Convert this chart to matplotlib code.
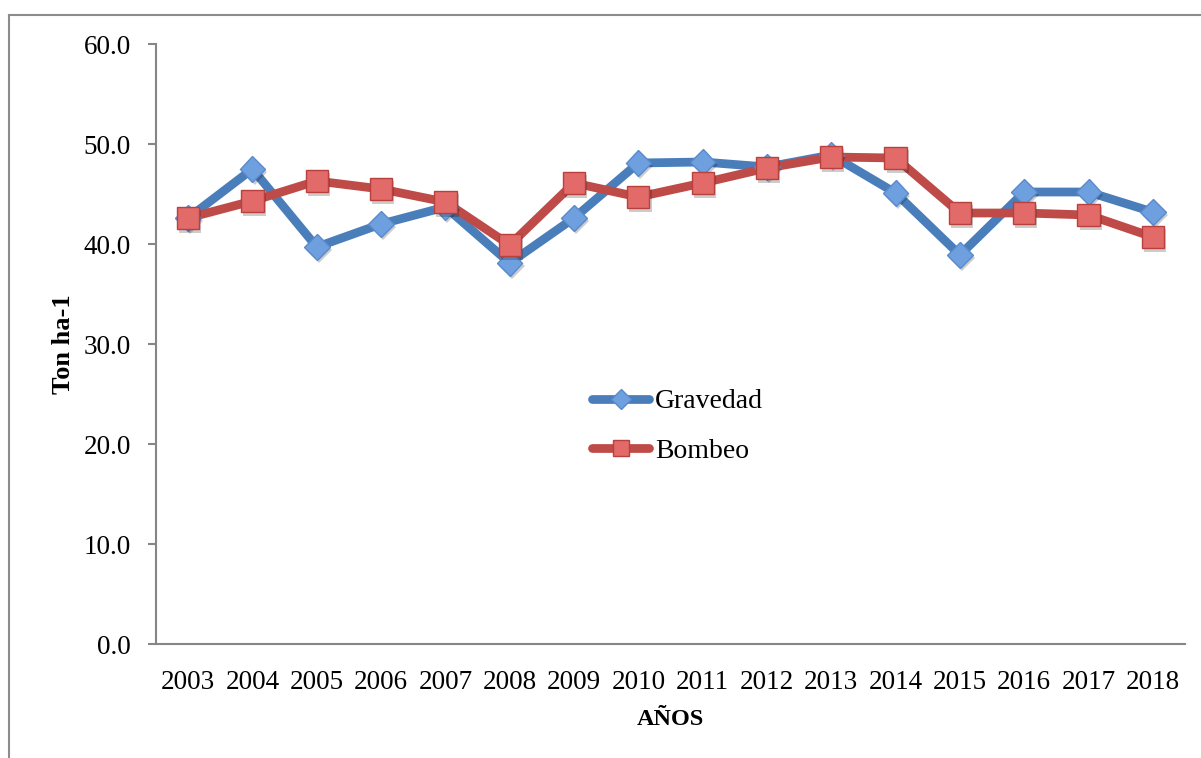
import matplotlib
matplotlib.use("Agg")
import matplotlib.pyplot as plt
from matplotlib.lines import Line2D
from matplotlib.ticker import FormatStrFormatter
import matplotlib.patheffects as pe

years = ["2003", "2004", "2005", "2006", "2007", "2008", "2009", "2010",
         "2011", "2012", "2013", "2014", "2015", "2016", "2017", "2018"]
gravedad = [42.6, 47.5, 39.7, 42.0, 43.7, 38.1, 42.6, 48.1,
            48.2, 47.7, 48.9, 45.1, 38.9, 45.2, 45.2, 43.2]
bombeo = [42.6, 44.3, 46.3, 45.5, 44.2, 39.9, 46.1, 44.7,
          46.1, 47.6, 48.7, 48.6, 43.1, 43.1, 42.9, 40.7]

W, H = 1201, 758
fig = plt.figure(figsize=(W / 100, H / 100), dpi=100)
plt.rcParams["font.family"] = ["Liberation Serif", "DejaVu Serif"]

# outer chart frame
frame_col = "#8c8c8c"
fig.add_artist(Line2D([9 / W, 9 / W], [0, 1 - 15 / H], transform=fig.transFigure,
                      color=frame_col, lw=1.5))
fig.add_artist(Line2D([9 / W, 1], [1 - 15 / H, 1 - 15 / H], transform=fig.transFigure,
                      color=frame_col, lw=1.5))

left, right, top, bottom = 156, 1185, 44, 644
ax = fig.add_axes([left / W, 1 - bottom / H, (right - left) / W, (bottom - top) / H])

x = list(range(len(years)))
shadow = [pe.SimplePatchShadow(offset=(1.5, -2.5), shadow_rgbFace="#000000", alpha=0.2), pe.Normal()]

blue_line, blue_face, blue_edge = "#4A7EBB", "#6E9FDE", "#5A8ACB"
red_line, red_face, red_edge = "#BE4B48", "#E26B6A", "#B8403D"

ax.plot(x, gravedad, color=blue_line, lw=6.3, solid_capstyle="round", zorder=2)
ax.plot(x, bombeo, color=red_line, lw=6.3, solid_capstyle="round", zorder=3)
ax.plot(x, gravedad, ls="none", marker="D", ms=13, mfc=blue_face, mec=blue_edge,
        mew=1, zorder=4, path_effects=shadow)
ax.plot(x, bombeo, ls="none", marker="s", ms=16, mfc=red_face, mec=red_edge,
        mew=1, zorder=5, path_effects=shadow)

ax.set_xlim(-0.5, len(years) - 0.5)
ax.set_ylim(0, 60)
ax.set_yticks([0, 10, 20, 30, 40, 50, 60])
ax.yaxis.set_major_formatter(FormatStrFormatter("%.1f"))
ax.set_xticks(x)
ax.set_xticklabels(years)

for s in ["top", "right"]:
    ax.spines[s].set_visible(False)
for s in ["left", "bottom"]:
    ax.spines[s].set_color("#868686")
    ax.spines[s].set_linewidth(1.5)

ax.tick_params(axis="y", direction="out", length=6, width=1.5, color="#868686",
               labelsize=19.5, pad=12)
ax.tick_params(axis="x", length=0, labelsize=19.5, pad=19)

ax.set_ylabel("Ton ha-1", fontsize=19, fontweight="bold", labelpad=6)
ax.set_xlabel("AÑOS", fontsize=17.5, fontweight="bold", labelpad=10)

h1 = Line2D([], [], color=blue_line, lw=6.3, marker="D", ms=10, mfc=blue_face, mec=blue_edge,
            solid_capstyle="round")
h2 = Line2D([], [], color=red_line, lw=6.3, marker="s", ms=11, mfc=red_face, mec=red_edge,
            solid_capstyle="round")
ax.legend([h1, h2], ["Gravedad", "Bombeo"], loc="upper left",
          bbox_to_anchor=(0.424, 0.425), frameon=False, fontsize=20,
          handlelength=2.05, handletextpad=0.2, labelspacing=0.85, borderpad=0,
          borderaxespad=0)

fig.savefig("out.png", dpi=100)
